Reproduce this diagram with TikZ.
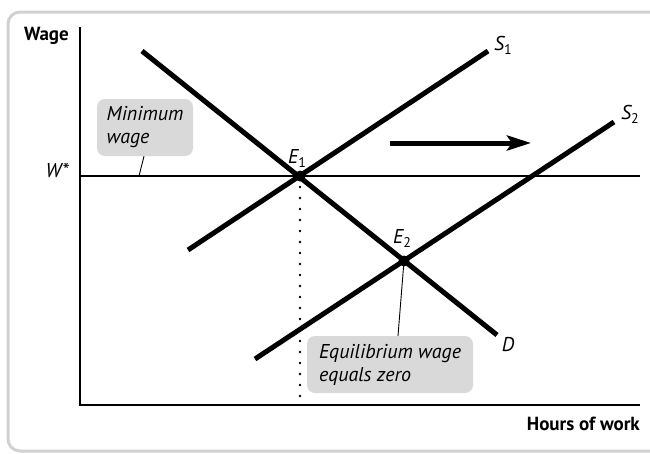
\documentclass[tikz,border=0pt]{standalone}
\usepackage{fontspec}
\setmainfont{PT Sans}
\usepackage{tikz}
\usetikzlibrary{calc,arrows.meta}
\newcommand{\sublbl}[2]{\textit{#1}\raisebox{-4pt}{\upshape\fontsize{14}{14}\selectfont #2}}

\begin{document}
\begin{tikzpicture}[x=1pt,y=-1pt,
		curve/.style={line width=5pt},
		axis/.style={line width=1.4pt},
		lbl/.style={font=\fontsize{20}{23}\selectfont\itshape,inner sep=0pt},
		axlbl/.style={font=\fontsize{19}{22}\selectfont\bfseries,inner sep=0pt},
		callout/.style={fill=black!15,rounded corners=8pt,align=left,inner xsep=8pt,inner ysep=0pt,font=\fontsize{20}{23}\selectfont\itshape}]
				\useasboundingbox (0,0) rectangle (650,453);
				\clip (0,0) rectangle (650,453);
				\draw [black!18, line width=3pt, rounded corners=12pt] (8,12) rectangle (680,451);
				\coordinate (O) at (80,405);
				\coordinate (ytop) at (80,27);
				\coordinate (xend) at (640,405);
				\coordinate (wleft) at (80,176);
				\coordinate (wright) at (640,176);
				\coordinate (dtop) at (142,51);
				\coordinate (dbot) at (497,335);
				\coordinate (sone) at (188,250);
				\coordinate (sonetop) at (488,51);
				\coordinate (stwo) at (255,359);
				\coordinate (stwotop) at (614,122);
				\coordinate (E1) at (300,176);
				\coordinate (E2) at (404,261);
				\coordinate (qone) at (300,405);
				\coordinate (shiftA) at (390,143);
				\coordinate (shiftB) at (531,143);
				\coordinate (minfoot) at (139,176);
				\draw[axis] (ytop) -- (O) -- (xend);
				\draw[line width=1.8pt] (wleft) -- (wright);
				\draw[line width=2.6pt, line cap=round, dash pattern=on 0pt off 11pt] (E1) -- (qone);
				\draw[curve] (dtop) -- (dbot);
				\draw[curve] (sone) -- (sonetop);
				\draw[curve] (stwo) -- (stwotop);
				\fill (E1) circle [radius=5.5];
				\fill (E2) circle [radius=5.5];
				\draw[line width=5pt, -{Stealth[length=24pt,width=15pt,inset=5pt]}] (shiftA) -- (shiftB);
				\node[axlbl, anchor=base east] (wage) at (69,40) {Wage};
				\node[axlbl, anchor=base east] (hours) at (640,430) {Hours of work};
				\node[lbl, anchor=base east] (wstar) at (69,177) {W*};
				\node[lbl] (s1lbl) at (503,45) {\sublbl{S}{1}};
				\node[lbl] (s2lbl) at (630,114) {\sublbl{S}{2}};
				\node[lbl] (e1lbl) at (297,158) {\sublbl{E}{1}};
				\node[lbl] (e2lbl) at (402,238) {\sublbl{E}{2}};
				\node[lbl] (dlbl) at (508,345) {D};
				\node[callout, minimum width=96pt, minimum height=57pt] (minbox) at (145,127.5) {Minimum\\wage};
				\node[callout, minimum width=166pt, minimum height=57pt] (eqbox) at (390,364.5) {Equilibrium wage\\equals zero};
				\draw[line width=0.9pt] ($(minbox.south)+(-1,0)$) -- (minfoot);
				\draw[line width=0.9pt] (E2) -- ($(eqbox.north)+(8,0)$);
			\end{tikzpicture}
\end{document}
